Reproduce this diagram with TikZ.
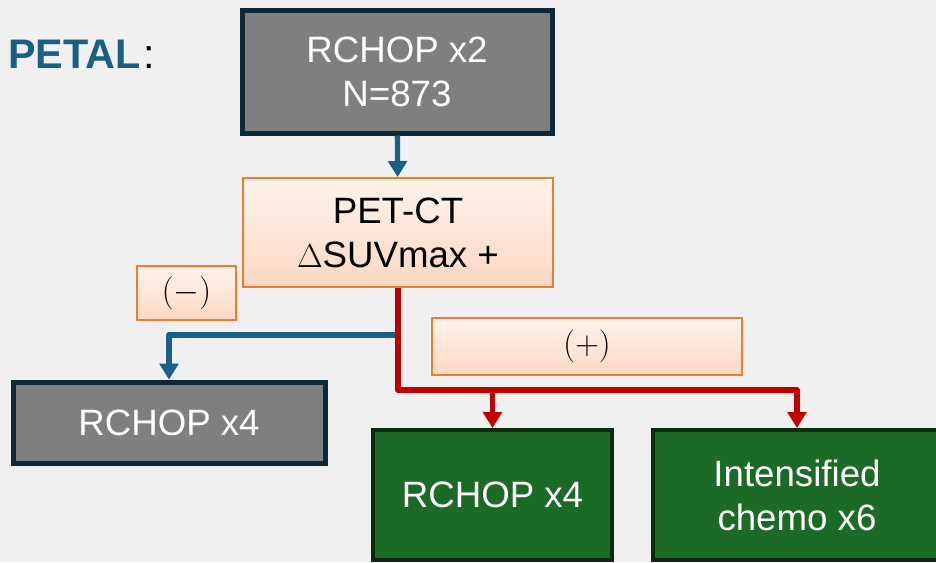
\documentclass[tikz,border=0pt]{standalone}
\usepackage{fontspec}
\setmainfont{Liberation Sans}
\usetikzlibrary{arrows.meta}
\definecolor{bggray}{HTML}{F0F0F0}
\definecolor{petalblue}{HTML}{1A5F85}
\definecolor{navy}{HTML}{0D2836}
\definecolor{boxgray}{HTML}{7F7F7F}
\definecolor{peachtop}{HTML}{FFF3EC}
\definecolor{peachbot}{HTML}{FCD8C3}
\definecolor{orangeline}{HTML}{ED7D31}
\definecolor{armred}{HTML}{C00000}
\definecolor{armgreen}{HTML}{1B6B26}
\definecolor{darkgreen}{HTML}{0B2A10}
\begin{document}
\begin{tikzpicture}[x=0.75pt,y=-0.75pt,
  txt/.style={font=\fontsize{27.5}{33}\selectfont,align=center,inner sep=0pt},
  graybox/.style={txt,draw=navy,line width=3.75pt,fill=boxgray,text=white},
  peachbox/.style={txt,draw=orangeline,line width=1.5pt,top color=peachtop,bottom color=peachbot},
  greenbox/.style={txt,draw=darkgreen,line width=3pt,fill=armgreen,text=white},
  bluearrow/.style={draw=petalblue,line width=4pt,line join=round,-{Triangle[width=14pt,length=12pt]}},
  redarrow/.style={draw=armred,line width=4pt,line join=round,-{Triangle[width=14pt,length=12pt]}}]
\clip (0,0) rectangle (936,562);
\fill[bggray] (0,0) rectangle (936,562);
% title
\node[anchor=base west,inner sep=0pt,font=\fontsize{31}{37}\selectfont] (title) at (8,68) {\textcolor{petalblue}{\bfseries PETAL}\kern2pt:};
% boxes
\node[graybox,minimum width=232.5pt,minimum height=92.25pt] (top) at (397,71.5) {RCHOP x2\\N=873};
\node[peachbox,minimum width=232.5pt,minimum height=81.75pt] (pet) at (398,232.5) {PET-CT\\$\Delta$SUVmax +};
\node[peachbox,minimum width=74.25pt,minimum height=40.5pt] (neg) at (186.5,293) {$(-)$};
\node[peachbox,minimum width=232.5pt,minimum height=42.75pt] (pos) at (587,346.5) {$(+)$};
\node[graybox,minimum width=234pt,minimum height=60.75pt] (rcneg) at (169,422.5) {RCHOP x4};
\node[greenbox,minimum width=179.25pt,minimum height=97.5pt] (rcpos) at (492.5,495) {RCHOP x4};
\node[greenbox,minimum width=216pt,minimum height=97.5pt] (chemo) at (797,495) {Intensified\\chemo x6};
% arrows
\coordinate (bluebar) at (398,335);
\coordinate (redbar) at (398,390);
\draw[bluearrow] (top) -- (pet);
\draw[bluearrow] (bluebar) -| (rcneg.north);
\draw[redarrow] (pet.south) -- (redbar) -| (chemo.north);
\draw[redarrow] (rcpos.north |- redbar) -- (rcpos.north);
\end{tikzpicture}
\end{document}
